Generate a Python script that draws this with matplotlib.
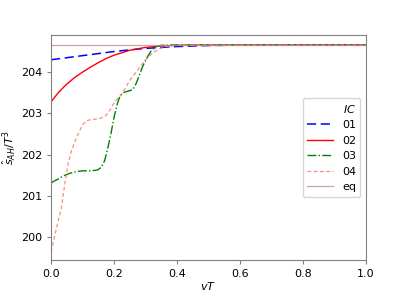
import matplotlib

matplotlib.use("Agg")
import matplotlib.pyplot as plt

# values
x01 = [0.0, 0.05, 0.1, 0.15, 0.2, 0.25, 0.3, 0.35, 0.4, 0.5, 0.6, 0.8, 1.0]
y01 = [204.30, 204.35, 204.40, 204.45, 204.50, 204.54, 204.575, 204.60, 204.62, 204.645, 204.655, 204.66, 204.66]

x02 = [0.0, 0.025, 0.05, 0.075, 0.1, 0.125, 0.15, 0.175, 0.2, 0.25, 0.3, 0.35, 0.4, 0.5, 0.6, 0.8, 1.0]
y02 = [203.28, 203.52, 203.71, 203.87, 204.00, 204.12, 204.23, 204.33, 204.41, 204.53, 204.60, 204.635, 204.65, 204.66, 204.66, 204.66, 204.66]

x03 = [0.0, 0.02, 0.04, 0.06, 0.08, 0.1, 0.12, 0.14, 0.15, 0.16, 0.17, 0.18, 0.19, 0.2, 0.21, 0.218, 0.228,
       0.24, 0.25, 0.26, 0.27, 0.28, 0.29, 0.3, 0.31, 0.32, 0.335, 0.35, 0.4, 0.5, 1.0]
y03 = [201.32, 201.40, 201.49, 201.55, 201.59, 201.61, 201.61, 201.62, 201.64, 201.70, 201.85, 202.15, 202.50, 202.90, 203.22, 203.40, 203.50,
       203.53, 203.55, 203.58, 203.72, 203.92, 204.12, 204.28, 204.42, 204.54, 204.62, 204.65, 204.66, 204.66, 204.66]

x04 = [0.0, 0.01, 0.02, 0.033, 0.045, 0.055, 0.065, 0.075, 0.086, 0.1, 0.112, 0.125, 0.14, 0.155, 0.17,
       0.18, 0.19, 0.2, 0.21, 0.22, 0.235, 0.25, 0.27, 0.285, 0.3, 0.32, 0.34, 0.36, 0.38, 0.4, 0.45, 0.5, 1.0]
y04 = [199.65, 199.98, 200.30, 200.72, 201.35, 201.80, 202.10, 202.30, 202.50, 202.72, 202.82, 202.85, 202.86, 202.88, 202.92,
       203.00, 203.12, 203.25, 203.35, 203.43, 203.60, 203.80, 204.00, 204.15, 204.30, 204.45, 204.55, 204.61, 204.64, 204.655, 204.66, 204.66, 204.66]

x_eq = [0.0, 1.0]
y_eq = [204.66, 204.66]

plt.rcParams["font.size"] = 8

fig = plt.figure(figsize=(4.07, 2.93), dpi=100)
ax = fig.add_axes([51 / 407, 1 - 260 / 293, 315 / 407, 225 / 293])

ax.plot(x01, y01, "--", color="blue", linewidth=1.1, dashes=(6, 3), label="01")
ax.plot(x02, y02, "-", color="red", linewidth=1.0, label="02")
ax.plot(x03, y03, "-.", color="green", linewidth=1.0, label="03")
ax.plot(x04, y04, "--", color="salmon", linewidth=0.9, dashes=(3, 2), alpha=0.9, label="04")
ax.plot(x_eq, y_eq, "-", color="rosybrown", linewidth=0.9, alpha=0.8, label="eq")

ax.set_xlim(0, 1)
ax.set_ylim(199.45, 204.9)
ax.set_xticks([0.0, 0.2, 0.4, 0.6, 0.8, 1.0])
ax.set_yticks([200, 201, 202, 203, 204])
ax.set_xlabel("$vT$", labelpad=1)
ax.set_ylabel(r"$\hat{s}_{AH}/T^3$", labelpad=2)
for s in ax.spines.values():
    s.set_color("gray")
ax.tick_params(colors="gray", labelcolor="black", length=3)

leg = ax.legend(loc="center right", title="$IC$", handlelength=2.3, fontsize=8)
leg._legend_box.align = "right"

fig.savefig("out.png", dpi=100)
